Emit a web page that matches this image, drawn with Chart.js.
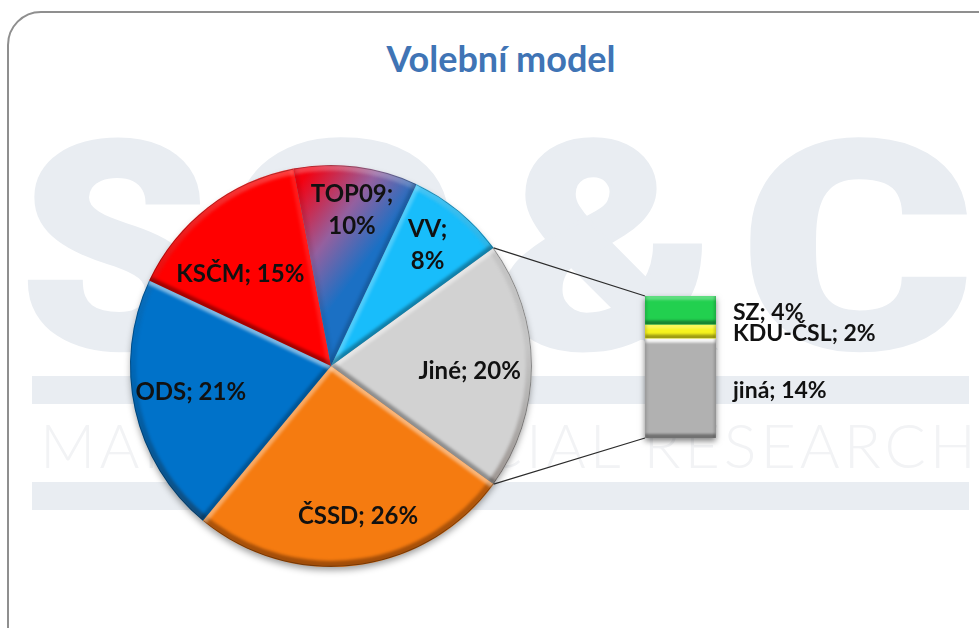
<!DOCTYPE html>
<html lang="cs">
<head>
<meta charset="utf-8">
<title>Volební model</title>
<script src="https://cdn.jsdelivr.net/npm/chart.js@4"></script>
<style>
  html, body { margin: 0; padding: 0; background: #fff; overflow: hidden; }
  #page { position: relative; width: 979px; height: 628px; overflow: hidden; background: #fff; }
  #frame { position: absolute; left: 7px; top: 11px; width: 1020px; height: 660px; border: 2px solid #8f8f8f; border-radius: 34px; box-sizing: border-box; }
  .mark { position: absolute; top: 104px; font: 900 290px/1 Roboto, sans-serif; color: #e9edf2; -webkit-text-stroke: 3px #e9edf2; transform-origin: left top; }
  .band { position: absolute; left: 32px; width: 937px; height: 28px; background: #e9edf2; }
  #markText { position: absolute; left: 40px; top: 408px; font: 300 61px/1.2 Lato, sans-serif; color: #f2f3f5; white-space: nowrap; letter-spacing: 4px; }
  #title { position: absolute; left: 301px; width: 400px; top: 36px; text-align: center; font: bold 36px/44px Lato, sans-serif; color: #3f74b5; }
  canvas { position: absolute; left: 0; top: 0; }
</style>
</head>
<body>
<div id="page">
  <div id="frame"></div>
  <div class="mark" style="left:20px;transform:scaleX(1.04)">S</div>
  <div class="mark" style="left:222px;transform:scaleX(1.23)">C</div>
  <div class="mark" style="left:497px;transform:scaleX(1.14)">&amp;</div>
  <div class="mark" style="left:740px;transform:scaleX(1.23)">C</div>
  <div class="band" style="top:376px"></div>
  <div class="band" style="top:482px"></div>
  <div id="markText">MARKET &amp; SOCIAL RESEARCH</div>
  <div id="title">Volební model</div>
  <canvas id="barChart" width="979" height="628"></canvas>
  <canvas id="pieChart" width="979" height="628"></canvas>
</div>

<script>
// ─── Data ────────────────────────────────────────────────────
const parties      = ['Jiné', 'ČSSD', 'ODS', 'KSČM', 'TOP09', 'VV'];
const partyValues  = [20, 26, 21, 15, 10, 8];
const partyColors  = ['#d2d2d2', '#f57b10', '#0072c9', '#ff0000', null, '#18bdfb'];
const wrapped      = ['TOP09', 'VV'];
const labelRadii   = [0.69, 0.76, 0.71, 0.64, 0.78, 0.77];
const labelTurn    = [2, -3, 2, -7, 0.5, -1];   // degrees off the slice's middle

const others       = ['SZ', 'KDU-ČSL', 'jiná'];
const otherValues  = [4, 2, 14];
const otherColors  = ['#22d04f', '#f6f41e', '#b1b1b1'];

const TEXT_COLOR = '#111';

Chart.defaults.animation = false;

// ─── Gradient for the TOP09 slice ────────────────────────────
function sliceColor(ctx) {
  const base = partyColors[ctx.dataIndex];
  if (base) return base;
  const area = ctx.chart.chartArea;
  if (!area) return '#7060b0';
  const cx = (area.left + area.right) / 2;
  const cy = (area.top + area.bottom) / 2;
  const r  = (area.right - area.left) / 2;
  const g  = ctx.chart.ctx.createLinearGradient(cx - 0.15 * r, cy - 0.92 * r, cx + 0.25 * r, cy - 0.62 * r);
  g.addColorStop(0, '#f5000f');
  g.addColorStop(0.55, '#94609f');
  g.addColorStop(1, '#1b70c4');
  return g;
}

// ─── Plugins ─────────────────────────────────────────────────
function edgeStroke(ctx, x1, y1, x2, y2, strength) {
  ctx.strokeStyle = strength > 0
    ? `rgba(255,255,255,${0.55 * strength})`
    : `rgba(0,0,0,${-0.4 * strength})`;
  ctx.beginPath();
  ctx.moveTo(x1, y1);
  ctx.lineTo(x2, y2);
  ctx.stroke();
}

// stacked bar on a reversed axis: y and base come swapped, so sort them
function barTop(bar)    { return Math.min(bar.y, bar.base); }
function barBottom(bar) { return Math.max(bar.y, bar.base); }

const pieShadow = {
  id: 'pieShadow',
  beforeDatasetsDraw(chart) {
    const a = chart.getDatasetMeta(0).data[0];
    const ctx = chart.ctx;
    ctx.save();
    ctx.shadowColor = 'rgba(0,0,0,0.4)';
    ctx.shadowBlur = 7;
    ctx.shadowOffsetY = 4;
    ctx.fillStyle = '#777';
    ctx.beginPath();
    ctx.arc(a.x, a.y, a.outerRadius - 1, 0, Math.PI * 2);
    ctx.fill();
    ctx.restore();
  }
};

const pieBevel = {
  id: 'pieBevel',
  afterDatasetsDraw(chart) {
    const ctx = chart.ctx;
    chart.getDatasetMeta(0).data.forEach(a => {
      const { x, y, startAngle: s, endAngle: e, outerRadius: r } = a;
      ctx.save();
      ctx.beginPath();
      ctx.moveTo(x, y);
      ctx.arc(x, y, r, s, e);
      ctx.closePath();
      ctx.clip();
      ctx.filter = 'blur(1.5px)';

      // rim: lit at the top, dark at the bottom
      const rim = ctx.createLinearGradient(0, y - r, 0, y + r);
      rim.addColorStop(0, 'rgba(255,255,255,0.25)');
      rim.addColorStop(0.45, 'rgba(0,0,0,0.06)');
      rim.addColorStop(1, 'rgba(60,20,0,0.45)');
      ctx.strokeStyle = rim;
      ctx.lineWidth = 8;
      ctx.beginPath();
      ctx.arc(x, y, r - 2, s, e);
      ctx.stroke();

      // straight edges, by which way they face
      ctx.lineWidth = 8;
      edgeStroke(ctx, x, y, x + r * Math.cos(s), y + r * Math.sin(s), Math.cos(s));
      edgeStroke(ctx, x, y, x + r * Math.cos(e), y + r * Math.sin(e), -Math.cos(e));

      ctx.filter = 'none';
      ctx.strokeStyle = 'rgba(0,0,0,0.3)';
      ctx.lineWidth = 1;
      ctx.beginPath();
      ctx.arc(x, y, r - 0.5, s, e);
      ctx.stroke();
      ctx.restore();
    });
  }
};

const pieLabels = {
  id: 'pieLabels',
  afterDraw(chart) {
    const ctx = chart.ctx;
    ctx.save();
    ctx.font = 'bold 24px Lato, sans-serif';
    ctx.fillStyle = TEXT_COLOR;
    ctx.textAlign = 'center';
    ctx.textBaseline = 'middle';
    chart.getDatasetMeta(0).data.forEach((a, i) => {
      const mid = (a.startAngle + a.endAngle) / 2 + labelTurn[i] * Math.PI / 180;
      const px = a.x + labelRadii[i] * a.outerRadius * Math.cos(mid);
      const py = a.y + labelRadii[i] * a.outerRadius * Math.sin(mid);
      if (wrapped.includes(parties[i])) {
        ctx.fillText(parties[i] + ';', px, py - 16);
        ctx.fillText(partyValues[i] + '%', px, py + 16);
      } else {
        ctx.fillText(`${parties[i]}; ${partyValues[i]}%`, px, py);
      }
    });
    ctx.restore();
  }
};

// lines from the "Jiné" slice to the bar that breaks it down
const connectors = {
  id: 'connectors',
  afterDraw(chart) {
    const a = chart.getDatasetMeta(0).data[0];
    const bars = barChart.data.datasets.map((d, i) => barChart.getDatasetMeta(i).data[0]);
    const top = bars[0];
    const bottom = bars[bars.length - 1];
    const ctx = chart.ctx;
    ctx.save();
    ctx.strokeStyle = '#2b2b2b';
    ctx.lineWidth = 1.2;
    ctx.beginPath();
    ctx.moveTo(a.x + a.outerRadius * Math.cos(a.startAngle), a.y + a.outerRadius * Math.sin(a.startAngle));
    ctx.lineTo(top.x - top.width / 2, barTop(top));
    ctx.moveTo(a.x + a.outerRadius * Math.cos(a.endAngle), a.y + a.outerRadius * Math.sin(a.endAngle));
    ctx.lineTo(bottom.x - bottom.width / 2, barBottom(bottom));
    ctx.stroke();
    ctx.restore();
  }
};

const barShadow = {
  id: 'barShadow',
  beforeDatasetsDraw(chart) {
    const metas = chart.data.datasets.map((d, i) => chart.getDatasetMeta(i).data[0]);
    const t = metas[0];
    const b = metas[metas.length - 1];
    const ctx = chart.ctx;
    ctx.save();
    ctx.shadowColor = 'rgba(0,0,0,0.5)';
    ctx.shadowBlur = 6;
    ctx.shadowOffsetY = 3;
    ctx.fillStyle = '#888';
    ctx.fillRect(t.x - t.width / 2, barTop(t), t.width, barBottom(b) - barTop(t));
    ctx.restore();
  }
};

const barBevel = {
  id: 'barBevel',
  afterDatasetsDraw(chart) {
    const ctx = chart.ctx;
    chart.data.datasets.forEach((d, i) => {
      const bar = chart.getDatasetMeta(i).data[0];
      const l = bar.x - bar.width / 2;
      const r = bar.x + bar.width / 2;
      const t = barTop(bar);
      const b = barBottom(bar);
      ctx.save();
      ctx.beginPath();
      ctx.rect(l, t, bar.width, b - t);
      ctx.clip();
      ctx.filter = 'blur(1px)';
      ctx.lineWidth = 8;
      edgeStroke(ctx, l, t, r, t, i === 2 ? 1.6 : 0.5);
      edgeStroke(ctx, l, b, r, b, -0.9);
      ctx.lineWidth = 4;
      edgeStroke(ctx, l, t, l, b, -0.3);
      edgeStroke(ctx, r, t, r, b, -0.4);
      ctx.restore();
    });
  }
};

const barLabels = {
  id: 'barLabels',
  afterDraw(chart) {
    const ctx = chart.ctx;
    ctx.save();
    ctx.font = 'bold 23px Lato, sans-serif';
    ctx.fillStyle = TEXT_COLOR;
    ctx.textAlign = 'left';
    ctx.textBaseline = 'middle';
    chart.data.datasets.forEach((d, i) => {
      const bar = chart.getDatasetMeta(i).data[0];
      ctx.fillText(`${others[i]}; ${otherValues[i]}%`, bar.x + bar.width / 2 + 17, (bar.y + bar.base) / 2 + 2);
    });
    ctx.restore();
  }
};

// ─── Charts ──────────────────────────────────────────────────
const barChart = new Chart(document.getElementById('barChart'), {
  type: 'bar',
  data: {
    labels: ['Jiné'],
    datasets: others.map((name, i) => ({
      label: name,
      data: [otherValues[i]],
      backgroundColor: otherColors[i],
      barPercentage: 1,
      categoryPercentage: 1,
    })),
  },
  options: {
    responsive: false,
    layout: { padding: { left: 645, right: 263, top: 296, bottom: 190 } },
    plugins: { legend: { display: false }, tooltip: { enabled: false } },
    scales: {
      x: { stacked: true, display: false },
      y: { stacked: true, display: false, reverse: true, min: 0, max: 20 },
    },
  },
  plugins: [barShadow, barBevel, barLabels],
});

new Chart(document.getElementById('pieChart'), {
  type: 'pie',
  data: {
    labels: parties,
    datasets: [{
      data: partyValues,
      backgroundColor: sliceColor,
      borderWidth: 0,
    }],
  },
  options: {
    responsive: false,
    rotation: 54,
    layout: { padding: { left: 130, right: 447, top: 165, bottom: 61 } },
    plugins: { legend: { display: false }, tooltip: { enabled: false } },
  },
  plugins: [pieShadow, pieBevel, pieLabels, connectors],
});
</script>
</body>
</html>
